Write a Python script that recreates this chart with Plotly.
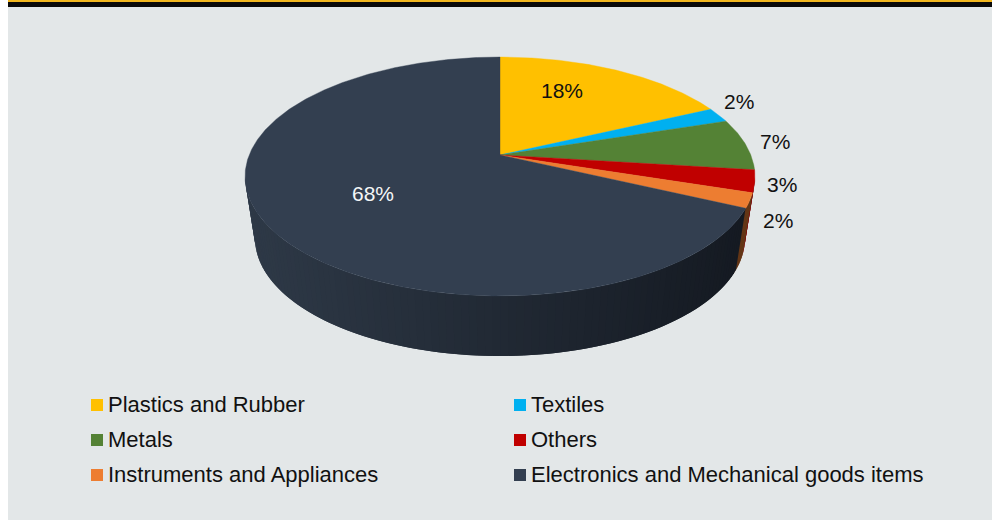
import numpy as np
import plotly.graph_objects as go

# Chart data
categories = ["Plastics and Rubber", "Textiles", "Metals", "Others",
              "Instruments and Appliances", "Electronics and Mechanical goods items"]
shares = [18, 2, 7, 3, 2, 68]
colors = ["#FFC000", "#00B0F0", "#548235", "#C00000", "#ED7D31", "#333F50"]
label_colors = ["#111111", "#111111", "#111111", "#111111", "#111111", "#F4F6F7"]

# Pie geometry in page pixels
W, H = 992, 520
CX = 500
TOP_CY, TOP_RX, TOP_RY = 155, 250.8, 115.6
BOT_CY, BOT_RX, BOT_RY = 217, 241, 114
TILT = 0.18
BG = "#E3E7E8"

label_x = [562, 739, 775, 782, 778, 373]
label_y = [90, 101, 141, 184, 220, 193]
legend_x = [97, 520]
legend_y = [405, 440, 475]
legend_text_y = [404, 439, 474]


def project(theta_deg, cy, rx, ry, r=1.0):
    """Perspective projection of a disc point, angle clockwise from 12 o'clock."""
    t = np.radians(theta_deg)
    u, v = r * np.sin(t), r * np.cos(t)
    d = 1 + TILT * v
    return CX + rx * u / d, cy - ry * v / d


def shade(left, right, f):
    c = [round(a + (b - a) * f) for a, b in zip(left, right)]
    return f"rgb({c[0]},{c[1]},{c[2]})"


fig = go.Figure()

edges = np.concatenate([[0], np.cumsum(shares)]) * 3.6

# Side wall: thin overlapping strips between the top rim and the bottom rim,
# painted right to left so each one covers the join with the previous strip
wall_start, wall_end = 100.4, 259.6
wall_tones = {
    3: ((122, 0, 0), (122, 0, 0)),
    4: ((100, 54, 22), (100, 54, 22)),
    5: ((46, 57, 71), (20, 25, 33)),
}
steps = np.arange(wall_start, wall_end, 1.5)
for a in steps:
    b = min(a + 3.0, wall_end)
    mid = a + 0.75
    idx = int(np.searchsorted(edges, mid, side="right") - 1)
    tx, ty = project(np.array([a, b]), TOP_CY, TOP_RX, TOP_RY)
    bx, by = project(np.array([b, a]), BOT_CY, BOT_RX, BOT_RY)
    f = float(np.clip((CX + 255 - project(mid, TOP_CY, TOP_RX, TOP_RY)[0]) / 510, 0, 1))
    tone = wall_tones[idx]
    col = shade(tone[1], tone[0], f)
    fig.add_trace(go.Scatter(
        x=np.r_[tx, bx], y=np.r_[ty, by], mode="lines", fill="toself",
        fillcolor=col, line=dict(width=0),
        hoverinfo="skip", showlegend=False))

# Top face of the pie, one polygon per category
for name, start, end, col in zip(categories, edges[:-1], edges[1:], colors):
    th = np.linspace(start, end, max(int(end - start) * 2, 8))
    x, y = project(th, TOP_CY, TOP_RX, TOP_RY)
    fig.add_trace(go.Scatter(
        x=np.r_[CX, x, CX], y=np.r_[TOP_CY, y, TOP_CY], mode="lines", fill="toself",
        fillcolor=col, line=dict(color=col, width=0.4),
        name=name, hoverinfo="name", showlegend=False))

# Two-column key
for i, (name, col) in enumerate(zip(categories, colors)):
    fig.add_trace(go.Scatter(
        x=[legend_x[i % 2]], y=[legend_y[i // 2]], mode="markers",
        marker=dict(symbol="square", size=12, color=col),
        hoverinfo="skip", showlegend=False))
    fig.add_annotation(
        x=legend_x[i % 2] + 9, y=legend_text_y[i // 2], text=name, showarrow=False,
        xanchor="left", yanchor="middle", xref="x", yref="y",
        font=dict(family="Liberation Sans", size=22, color="#111111"))

# Percentage labels
for share, lx, ly, col in zip(shares, label_x, label_y, label_colors):
    fig.add_annotation(
        x=lx, y=ly, text=f"{share}%", showarrow=False, xref="x", yref="y",
        xanchor="center", yanchor="middle",
        font=dict(family="Liberation Sans", size=21, color=col))

# Page furniture: panel and the two rules across the top
shapes = [
    dict(type="rect", x0=8, x1=W, y0=7, y1=H, fillcolor=BG, line_width=0, layer="below"),
    dict(type="rect", x0=8, x1=W, y0=0, y1=2, fillcolor="#F2B71E", line_width=0, layer="below"),
    dict(type="rect", x0=8, x1=W, y0=2, y1=7, fillcolor="#0A0A0A", line_width=0, layer="below"),
]

fig.update_layout(
    width=W, height=H, autosize=False,
    margin=dict(l=0, r=0, t=0, b=0),
    paper_bgcolor="#FFFFFF", plot_bgcolor="#FFFFFF",
    shapes=shapes, showlegend=False,
    xaxis=dict(range=[0, W], visible=False, fixedrange=True),
    yaxis=dict(range=[H, 0], visible=False, fixedrange=True),
)

fig.write_html("out.html", config={"displayModeBar": False})
